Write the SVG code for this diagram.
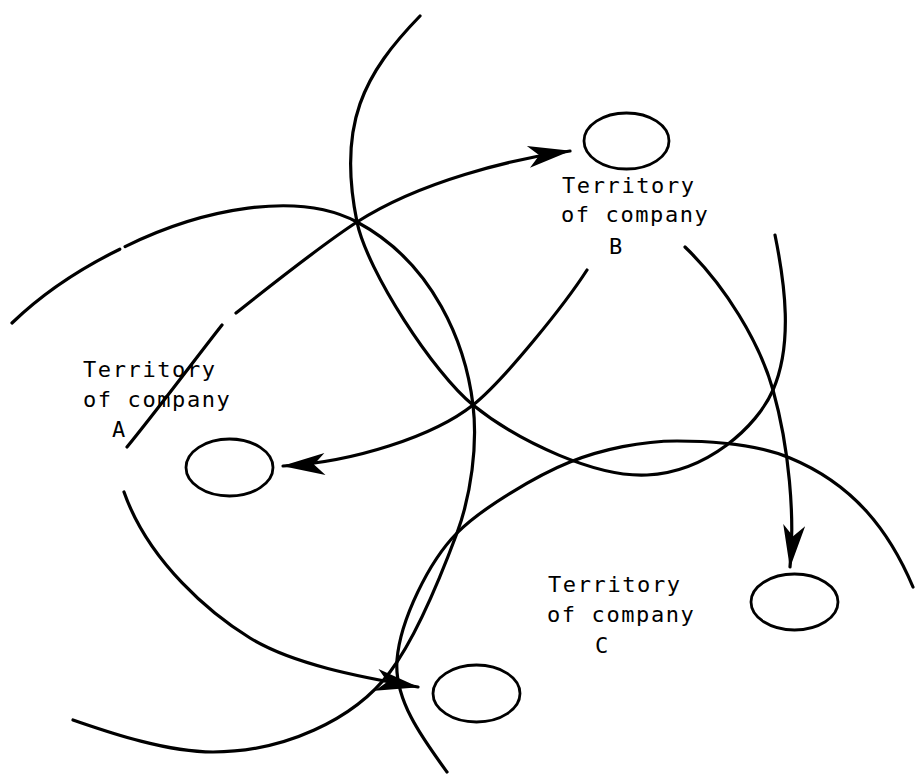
<svg xmlns="http://www.w3.org/2000/svg" width="915" height="775" viewBox="0 0 915 775">
  <style>
    .bound { fill: none; stroke: #000; stroke-width: 3.2; stroke-linecap: round; stroke-linejoin: round; }
    .flow { fill: none; stroke: #000; stroke-width: 3.2; stroke-linecap: round; marker-end: url(#barb); }
    .site { fill: none; stroke: #000; stroke-width: 2.8; }
    .lbl { font-family: "DejaVu Sans Mono", "Liberation Mono", monospace; font-size: 22px; letter-spacing: 1.6px; fill: #000; }
  </style>
  <defs>
    <!-- barbed, filled arrowhead; tip sits on the path end -->
    <marker id="barb" markerUnits="userSpaceOnUse" markerWidth="50" markerHeight="30" viewBox="-46 -15 50 30" refX="0" refY="0" orient="auto" overflow="visible">
      <path d="M1,0 L-42,-11 L-31,0 L-42,11 Z" fill="#000"/>
    </marker>
  </defs>
  <rect width="915" height="775" fill="#fff"/>

  <!-- market boundaries of the three companies -->
  <g id="boundaries">
    <path id="boundary-a" class="bound" d="M12,323 C41,295 78.9,269.3 119.8,249.2 M125.1,246.6 C202.7,208.4 298,190.5 357,222 C434.4,263.4 465.8,345 473,405 C477.8,445 471,495.4 457,533 C439.5,580 414,640 390,672 C354,720 283,752 213,752 C163,752 101.5,729.6 73,720"/>
    <path id="boundary-b" class="bound" d="M420,16 C364,73.6 337,124 357,222 C367,271 434,373.5 473,405 C519.8,442.8 597,477.5 647,475 C707,472 757,426.8 773,390 C793,344 785,284 775,235"/>
    <path id="boundary-c" class="bound" d="M447,772 C423.4,739.6 393.8,700 397,660 C400.2,620 429,561.4 457,533 C481.5,508.2 537.5,475 570,462 C602.6,449 642,441 677,441 C712,441 757.8,444.7 790,458 C854.4,484.6 889.6,531.8 913,587"/>
  </g>

  <!-- moves between territories -->
  <g id="connectors">
    <path id="a-to-b" class="flow" d="M127,447 C158,409 196,358 222,325 M236,313 C260,294 320,246 357,222 C420,181.5 510.6,159.4 570,151"/>
    <path id="b-to-a" class="flow" d="M587,270 C565.4,303.6 504.2,380.2 473,405 C434,436 353,462.5 283,466"/>
    <path id="b-to-c" class="flow" d="M685,247 C724.6,285 759.5,342 773,390 C789.2,447.6 795,517 790,567"/>
    <path id="a-to-c" class="flow" d="M124,492 C148.8,562.5 211.8,614.6 250,638 C292.5,664 358.9,676.8 418,687"/>
  </g>

  <g id="territory-a">
    <ellipse class="site" cx="229.5" cy="467.5" rx="43.5" ry="28.5"/>
    <text class="lbl" x="83" y="377">Territory</text>
    <text class="lbl" x="83" y="407">of company</text>
    <text class="lbl" x="112" y="437">A</text>
  </g>

  <g id="territory-b">
    <ellipse class="site" cx="626.5" cy="141" rx="42.5" ry="28"/>
    <text class="lbl" x="562" y="193">Territory</text>
    <text class="lbl" x="561" y="222">of company</text>
    <text class="lbl" x="609" y="254">B</text>
  </g>

  <g id="territory-c">
    <ellipse class="site" cx="794.5" cy="602" rx="43.5" ry="28"/>
    <ellipse class="site" cx="476.5" cy="693.5" rx="43.5" ry="28.5"/>
    <text class="lbl" x="548" y="592">Territory</text>
    <text class="lbl" x="547" y="622">of company</text>
    <text class="lbl" x="595" y="653">C</text>
  </g>
</svg>
